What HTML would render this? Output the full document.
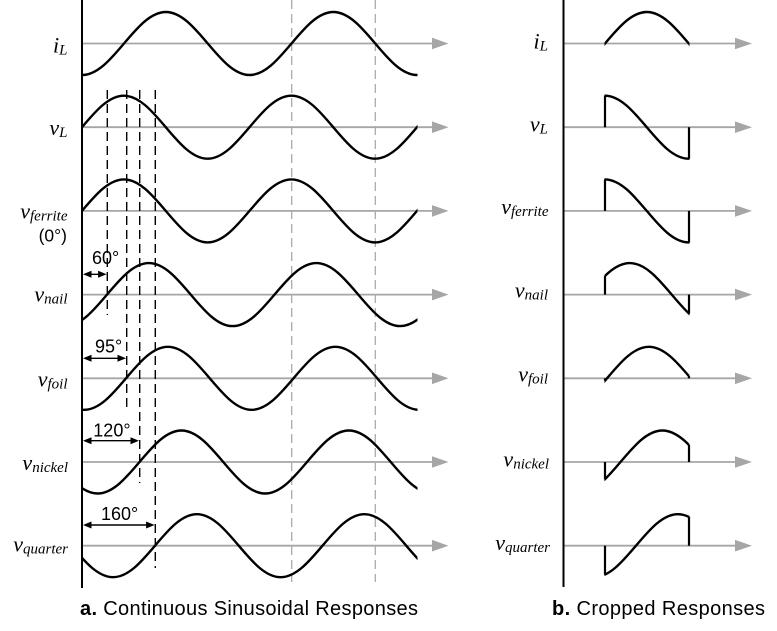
<!DOCTYPE html>
<html><head><meta charset="utf-8"><style>
html,body{margin:0;padding:0;background:#fff;}
svg{display:block;}
.lab{font-family:"Liberation Serif","Times New Roman",serif;font-style:italic;font-size:22px;}
.lab tspan{font-size:15px;}
.sans{font-family:"Liberation Sans",Arial,sans-serif;}
</style></head><body>
<svg width="777" height="631" viewBox="0 0 777 631" xmlns="http://www.w3.org/2000/svg">
<defs>
<clipPath id="cl"><rect x="82" y="0" width="335.5" height="631"/></clipPath>
<clipPath id="cr"><rect x="604.5" y="0" width="85" height="631"/></clipPath>
</defs>
<rect width="777" height="631" fill="#fff"/>
<g stroke="#a6a6a6" stroke-width="1.8" fill="none">
<line x1="82" y1="43.5" x2="434" y2="43.5"/>
<line x1="82" y1="127.2" x2="434" y2="127.2"/>
<line x1="82" y1="210.9" x2="434" y2="210.9"/>
<line x1="82" y1="294.6" x2="434" y2="294.6"/>
<line x1="82" y1="378.3" x2="434" y2="378.3"/>
<line x1="82" y1="462" x2="434" y2="462"/>
<line x1="82" y1="545.7" x2="434" y2="545.7"/>
<line x1="564" y1="43.5" x2="737" y2="43.5"/>
<line x1="564" y1="127.2" x2="737" y2="127.2"/>
<line x1="564" y1="210.9" x2="737" y2="210.9"/>
<line x1="564" y1="294.6" x2="737" y2="294.6"/>
<line x1="564" y1="378.3" x2="737" y2="378.3"/>
<line x1="564" y1="462" x2="737" y2="462"/>
<line x1="564" y1="545.7" x2="737" y2="545.7"/>
</g>
<g fill="#a6a6a6">
<polygon points="432,37.7 448.5,43.5 432,49.3"/>
<polygon points="432,121.4 448.5,127.2 432,133"/>
<polygon points="432,205.1 448.5,210.9 432,216.7"/>
<polygon points="432,288.8 448.5,294.6 432,300.4"/>
<polygon points="432,372.5 448.5,378.3 432,384.1"/>
<polygon points="432,456.2 448.5,462 432,467.8"/>
<polygon points="432,539.9 448.5,545.7 432,551.5"/>
<polygon points="735,37.7 752,43.5 735,49.3"/>
<polygon points="735,121.4 752,127.2 735,133"/>
<polygon points="735,205.1 752,210.9 735,216.7"/>
<polygon points="735,288.8 752,294.6 735,300.4"/>
<polygon points="735,372.5 752,378.3 735,384.1"/>
<polygon points="735,456.2 752,462 735,467.8"/>
<polygon points="735,539.9 752,545.7 735,551.5"/>
</g>
<g stroke="#ababab" stroke-width="1.3" stroke-dasharray="9,5">
<line x1="291.7" y1="0" x2="291.7" y2="582"/>
<line x1="375.3" y1="0" x2="375.3" y2="582"/>
</g>
<g stroke="#000" stroke-width="2.4" fill="none" clip-path="url(#cl)">
<path transform="translate(-43.5,43.5)" d="M0,0 c13.656,-16.14 26.72,-31.5 41.875,-31.5 c15.155,0 28.219,15.36 41.875,31.5 c13.656,16.14 26.72,31.5 41.875,31.5 c15.155,0 28.219,-15.36 41.875,-31.5 c13.656,-16.14 26.72,-31.5 41.875,-31.5 c15.155,0 28.219,15.36 41.875,31.5 c13.656,16.14 26.72,31.5 41.875,31.5 c15.155,0 28.219,-15.36 41.875,-31.5 c13.656,-16.14 26.72,-31.5 41.875,-31.5 c15.155,0 28.219,15.36 41.875,31.5 c13.656,16.14 26.72,31.5 41.875,31.5 c15.155,0 28.219,-15.36 41.875,-31.5 c13.656,-16.14 26.72,-31.5 41.875,-31.5 c15.155,0 28.219,15.36 41.875,31.5 c13.656,16.14 26.72,31.5 41.875,31.5 c15.155,0 28.219,-15.36 41.875,-31.5"/>
<path transform="translate(-85.5,127.2)" d="M0,0 c13.656,-16.14 26.72,-31.5 41.875,-31.5 c15.155,0 28.219,15.36 41.875,31.5 c13.656,16.14 26.72,31.5 41.875,31.5 c15.155,0 28.219,-15.36 41.875,-31.5 c13.656,-16.14 26.72,-31.5 41.875,-31.5 c15.155,0 28.219,15.36 41.875,31.5 c13.656,16.14 26.72,31.5 41.875,31.5 c15.155,0 28.219,-15.36 41.875,-31.5 c13.656,-16.14 26.72,-31.5 41.875,-31.5 c15.155,0 28.219,15.36 41.875,31.5 c13.656,16.14 26.72,31.5 41.875,31.5 c15.155,0 28.219,-15.36 41.875,-31.5 c13.656,-16.14 26.72,-31.5 41.875,-31.5 c15.155,0 28.219,15.36 41.875,31.5 c13.656,16.14 26.72,31.5 41.875,31.5 c15.155,0 28.219,-15.36 41.875,-31.5"/>
<path transform="translate(-85.5,210.9)" d="M0,0 c13.656,-16.14 26.72,-31.5 41.875,-31.5 c15.155,0 28.219,15.36 41.875,31.5 c13.656,16.14 26.72,31.5 41.875,31.5 c15.155,0 28.219,-15.36 41.875,-31.5 c13.656,-16.14 26.72,-31.5 41.875,-31.5 c15.155,0 28.219,15.36 41.875,31.5 c13.656,16.14 26.72,31.5 41.875,31.5 c15.155,0 28.219,-15.36 41.875,-31.5 c13.656,-16.14 26.72,-31.5 41.875,-31.5 c15.155,0 28.219,15.36 41.875,31.5 c13.656,16.14 26.72,31.5 41.875,31.5 c15.155,0 28.219,-15.36 41.875,-31.5 c13.656,-16.14 26.72,-31.5 41.875,-31.5 c15.155,0 28.219,15.36 41.875,31.5 c13.656,16.14 26.72,31.5 41.875,31.5 c15.155,0 28.219,-15.36 41.875,-31.5"/>
<path transform="translate(-60.5,294.6)" d="M0,0 c13.656,-16.14 26.72,-31.5 41.875,-31.5 c15.155,0 28.219,15.36 41.875,31.5 c13.656,16.14 26.72,31.5 41.875,31.5 c15.155,0 28.219,-15.36 41.875,-31.5 c13.656,-16.14 26.72,-31.5 41.875,-31.5 c15.155,0 28.219,15.36 41.875,31.5 c13.656,16.14 26.72,31.5 41.875,31.5 c15.155,0 28.219,-15.36 41.875,-31.5 c13.656,-16.14 26.72,-31.5 41.875,-31.5 c15.155,0 28.219,15.36 41.875,31.5 c13.656,16.14 26.72,31.5 41.875,31.5 c15.155,0 28.219,-15.36 41.875,-31.5 c13.656,-16.14 26.72,-31.5 41.875,-31.5 c15.155,0 28.219,15.36 41.875,31.5 c13.656,16.14 26.72,31.5 41.875,31.5 c15.155,0 28.219,-15.36 41.875,-31.5"/>
<path transform="translate(-41.5,378.3)" d="M0,0 c13.656,-16.14 26.72,-31.5 41.875,-31.5 c15.155,0 28.219,15.36 41.875,31.5 c13.656,16.14 26.72,31.5 41.875,31.5 c15.155,0 28.219,-15.36 41.875,-31.5 c13.656,-16.14 26.72,-31.5 41.875,-31.5 c15.155,0 28.219,15.36 41.875,31.5 c13.656,16.14 26.72,31.5 41.875,31.5 c15.155,0 28.219,-15.36 41.875,-31.5 c13.656,-16.14 26.72,-31.5 41.875,-31.5 c15.155,0 28.219,15.36 41.875,31.5 c13.656,16.14 26.72,31.5 41.875,31.5 c15.155,0 28.219,-15.36 41.875,-31.5 c13.656,-16.14 26.72,-31.5 41.875,-31.5 c15.155,0 28.219,15.36 41.875,31.5 c13.656,16.14 26.72,31.5 41.875,31.5 c15.155,0 28.219,-15.36 41.875,-31.5"/>
<path transform="translate(-28,462)" d="M0,0 c13.656,-16.14 26.72,-31.5 41.875,-31.5 c15.155,0 28.219,15.36 41.875,31.5 c13.656,16.14 26.72,31.5 41.875,31.5 c15.155,0 28.219,-15.36 41.875,-31.5 c13.656,-16.14 26.72,-31.5 41.875,-31.5 c15.155,0 28.219,15.36 41.875,31.5 c13.656,16.14 26.72,31.5 41.875,31.5 c15.155,0 28.219,-15.36 41.875,-31.5 c13.656,-16.14 26.72,-31.5 41.875,-31.5 c15.155,0 28.219,15.36 41.875,31.5 c13.656,16.14 26.72,31.5 41.875,31.5 c15.155,0 28.219,-15.36 41.875,-31.5 c13.656,-16.14 26.72,-31.5 41.875,-31.5 c15.155,0 28.219,15.36 41.875,31.5 c13.656,16.14 26.72,31.5 41.875,31.5 c15.155,0 28.219,-15.36 41.875,-31.5"/>
<path transform="translate(-12.5,545.7)" d="M0,0 c13.656,-16.14 26.72,-31.5 41.875,-31.5 c15.155,0 28.219,15.36 41.875,31.5 c13.656,16.14 26.72,31.5 41.875,31.5 c15.155,0 28.219,-15.36 41.875,-31.5 c13.656,-16.14 26.72,-31.5 41.875,-31.5 c15.155,0 28.219,15.36 41.875,31.5 c13.656,16.14 26.72,31.5 41.875,31.5 c15.155,0 28.219,-15.36 41.875,-31.5 c13.656,-16.14 26.72,-31.5 41.875,-31.5 c15.155,0 28.219,15.36 41.875,31.5 c13.656,16.14 26.72,31.5 41.875,31.5 c15.155,0 28.219,-15.36 41.875,-31.5 c13.656,-16.14 26.72,-31.5 41.875,-31.5 c15.155,0 28.219,15.36 41.875,31.5 c13.656,16.14 26.72,31.5 41.875,31.5 c15.155,0 28.219,-15.36 41.875,-31.5"/>
</g>
<g stroke="#000" stroke-width="2.4" fill="none" clip-path="url(#cr)">
<path transform="translate(270,43.5)" d="M0,0 c13.656,-16.14 26.72,-31.5 41.875,-31.5 c15.155,0 28.219,15.36 41.875,31.5 c13.656,16.14 26.72,31.5 41.875,31.5 c15.155,0 28.219,-15.36 41.875,-31.5 c13.656,-16.14 26.72,-31.5 41.875,-31.5 c15.155,0 28.219,15.36 41.875,31.5 c13.656,16.14 26.72,31.5 41.875,31.5 c15.155,0 28.219,-15.36 41.875,-31.5 c13.656,-16.14 26.72,-31.5 41.875,-31.5 c15.155,0 28.219,15.36 41.875,31.5 c13.656,16.14 26.72,31.5 41.875,31.5 c15.155,0 28.219,-15.36 41.875,-31.5"/>
<path transform="translate(228,127.2)" d="M0,0 c13.656,-16.14 26.72,-31.5 41.875,-31.5 c15.155,0 28.219,15.36 41.875,31.5 c13.656,16.14 26.72,31.5 41.875,31.5 c15.155,0 28.219,-15.36 41.875,-31.5 c13.656,-16.14 26.72,-31.5 41.875,-31.5 c15.155,0 28.219,15.36 41.875,31.5 c13.656,16.14 26.72,31.5 41.875,31.5 c15.155,0 28.219,-15.36 41.875,-31.5 c13.656,-16.14 26.72,-31.5 41.875,-31.5 c15.155,0 28.219,15.36 41.875,31.5 c13.656,16.14 26.72,31.5 41.875,31.5 c15.155,0 28.219,-15.36 41.875,-31.5"/>
<path transform="translate(228,210.9)" d="M0,0 c13.656,-16.14 26.72,-31.5 41.875,-31.5 c15.155,0 28.219,15.36 41.875,31.5 c13.656,16.14 26.72,31.5 41.875,31.5 c15.155,0 28.219,-15.36 41.875,-31.5 c13.656,-16.14 26.72,-31.5 41.875,-31.5 c15.155,0 28.219,15.36 41.875,31.5 c13.656,16.14 26.72,31.5 41.875,31.5 c15.155,0 28.219,-15.36 41.875,-31.5 c13.656,-16.14 26.72,-31.5 41.875,-31.5 c15.155,0 28.219,15.36 41.875,31.5 c13.656,16.14 26.72,31.5 41.875,31.5 c15.155,0 28.219,-15.36 41.875,-31.5"/>
<path transform="translate(253,294.6)" d="M0,0 c13.656,-16.14 26.72,-31.5 41.875,-31.5 c15.155,0 28.219,15.36 41.875,31.5 c13.656,16.14 26.72,31.5 41.875,31.5 c15.155,0 28.219,-15.36 41.875,-31.5 c13.656,-16.14 26.72,-31.5 41.875,-31.5 c15.155,0 28.219,15.36 41.875,31.5 c13.656,16.14 26.72,31.5 41.875,31.5 c15.155,0 28.219,-15.36 41.875,-31.5 c13.656,-16.14 26.72,-31.5 41.875,-31.5 c15.155,0 28.219,15.36 41.875,31.5 c13.656,16.14 26.72,31.5 41.875,31.5 c15.155,0 28.219,-15.36 41.875,-31.5"/>
<path transform="translate(272,378.3)" d="M0,0 c13.656,-16.14 26.72,-31.5 41.875,-31.5 c15.155,0 28.219,15.36 41.875,31.5 c13.656,16.14 26.72,31.5 41.875,31.5 c15.155,0 28.219,-15.36 41.875,-31.5 c13.656,-16.14 26.72,-31.5 41.875,-31.5 c15.155,0 28.219,15.36 41.875,31.5 c13.656,16.14 26.72,31.5 41.875,31.5 c15.155,0 28.219,-15.36 41.875,-31.5 c13.656,-16.14 26.72,-31.5 41.875,-31.5 c15.155,0 28.219,15.36 41.875,31.5 c13.656,16.14 26.72,31.5 41.875,31.5 c15.155,0 28.219,-15.36 41.875,-31.5"/>
<path transform="translate(285.5,462)" d="M0,0 c13.656,-16.14 26.72,-31.5 41.875,-31.5 c15.155,0 28.219,15.36 41.875,31.5 c13.656,16.14 26.72,31.5 41.875,31.5 c15.155,0 28.219,-15.36 41.875,-31.5 c13.656,-16.14 26.72,-31.5 41.875,-31.5 c15.155,0 28.219,15.36 41.875,31.5 c13.656,16.14 26.72,31.5 41.875,31.5 c15.155,0 28.219,-15.36 41.875,-31.5 c13.656,-16.14 26.72,-31.5 41.875,-31.5 c15.155,0 28.219,15.36 41.875,31.5 c13.656,16.14 26.72,31.5 41.875,31.5 c15.155,0 28.219,-15.36 41.875,-31.5"/>
<path transform="translate(301,545.7)" d="M0,0 c13.656,-16.14 26.72,-31.5 41.875,-31.5 c15.155,0 28.219,15.36 41.875,31.5 c13.656,16.14 26.72,31.5 41.875,31.5 c15.155,0 28.219,-15.36 41.875,-31.5 c13.656,-16.14 26.72,-31.5 41.875,-31.5 c15.155,0 28.219,15.36 41.875,31.5 c13.656,16.14 26.72,31.5 41.875,31.5 c15.155,0 28.219,-15.36 41.875,-31.5 c13.656,-16.14 26.72,-31.5 41.875,-31.5 c15.155,0 28.219,15.36 41.875,31.5 c13.656,16.14 26.72,31.5 41.875,31.5 c15.155,0 28.219,-15.36 41.875,-31.5"/>
</g>
<g stroke="#000" stroke-width="2.2" fill="none">
<line x1="605" y1="127.2" x2="605" y2="95.7"/>
<line x1="689" y1="127.2" x2="689" y2="158.7"/>
<line x1="605" y1="210.9" x2="605" y2="179.4"/>
<line x1="689" y1="210.9" x2="689" y2="242.4"/>
<line x1="605" y1="294.6" x2="605" y2="275.9"/>
<line x1="689" y1="294.6" x2="689" y2="313.6"/>
<line x1="605" y1="378.3" x2="605" y2="380.7"/>
<line x1="689" y1="378.3" x2="689" y2="376.2"/>
<line x1="605" y1="462" x2="605" y2="479.3"/>
<line x1="689" y1="462" x2="689" y2="444.9"/>
<line x1="605" y1="545.7" x2="605" y2="574.6"/>
<line x1="689" y1="545.7" x2="689" y2="516.9"/>
</g>
<line x1="82" y1="0" x2="82" y2="588" stroke="#000" stroke-width="2"/>
<line x1="563.5" y1="0" x2="563.5" y2="587" stroke="#000" stroke-width="2"/>
<g stroke="#000" stroke-width="1.4" stroke-dasharray="9,5">
<line x1="107.3" y1="90" x2="107.3" y2="315"/>
<line x1="126.7" y1="90" x2="126.7" y2="407"/>
<line x1="139.7" y1="90" x2="139.7" y2="483"/>
<line x1="155.3" y1="90" x2="155.3" y2="568"/>
</g>
<g stroke="#000" stroke-width="1.4">
<line x1="85" y1="274.3" x2="104.5" y2="274.3"/>
<line x1="85" y1="358.3" x2="124" y2="358.3"/>
<line x1="85" y1="440.7" x2="137" y2="440.7"/>
<line x1="85" y1="525" x2="152.5" y2="525"/>
</g>
<g fill="#000">
<polygon points="83,274.3 91.5,270.8 91.5,277.8"/>
<polygon points="106.6,274.3 98.1,270.8 98.1,277.8"/>
<polygon points="83,358.3 91.5,354.8 91.5,361.8"/>
<polygon points="126,358.3 117.5,354.8 117.5,361.8"/>
<polygon points="83,440.7 91.5,437.2 91.5,444.2"/>
<polygon points="139,440.7 130.5,437.2 130.5,444.2"/>
<polygon points="83,525 91.5,521.5 91.5,528.5"/>
<polygon points="154.6,525 146.1,521.5 146.1,528.5"/>
</g>
<g class="sans" font-size="18" fill="#000">
<text x="92" y="264">60°</text>
<text x="95" y="352.7">95°</text>
<text x="93.3" y="436.7">120°</text>
<text x="101" y="520">160°</text>
<text x="67" y="241.5" text-anchor="end" font-size="17.5">(0°)</text>
</g>
<g class="lab" fill="#000" text-anchor="end">
<text x="67.5" y="52.5">i<tspan dy="2">L</tspan></text>
<text x="67.5" y="135">v<tspan dy="2">L</tspan></text>
<text x="67.5" y="218.3">v<tspan dy="2">ferrite</tspan></text>
<text x="67.5" y="301.5">v<tspan dy="2">nail</tspan></text>
<text x="67.5" y="386.5">v<tspan dy="2">foil</tspan></text>
<text x="68" y="470">v<tspan dy="2">nickel</tspan></text>
<text x="68" y="551.7">v<tspan dy="2">quarter</tspan></text>
<text x="548" y="48.3">i<tspan dy="2">L</tspan></text>
<text x="548" y="131.7">v<tspan dy="2">L</tspan></text>
<text x="548.5" y="214">v<tspan dy="2">ferrite</tspan></text>
<text x="548" y="297.3">v<tspan dy="2">nail</tspan></text>
<text x="548" y="381.7">v<tspan dy="2">foil</tspan></text>
<text x="549" y="466.7">v<tspan dy="2">nickel</tspan></text>
<text x="550" y="550">v<tspan dy="2">quarter</tspan></text>
</g>
<g class="sans" font-size="20" fill="#000">
<text x="80" y="615" textLength="338" lengthAdjust="spacing"><tspan font-weight="bold">a.</tspan> Continuous Sinusoidal Responses</text>
<text x="552" y="615" textLength="213" lengthAdjust="spacing"><tspan font-weight="bold">b.</tspan> Cropped Responses</text>
</g>
</svg>
</body></html>
